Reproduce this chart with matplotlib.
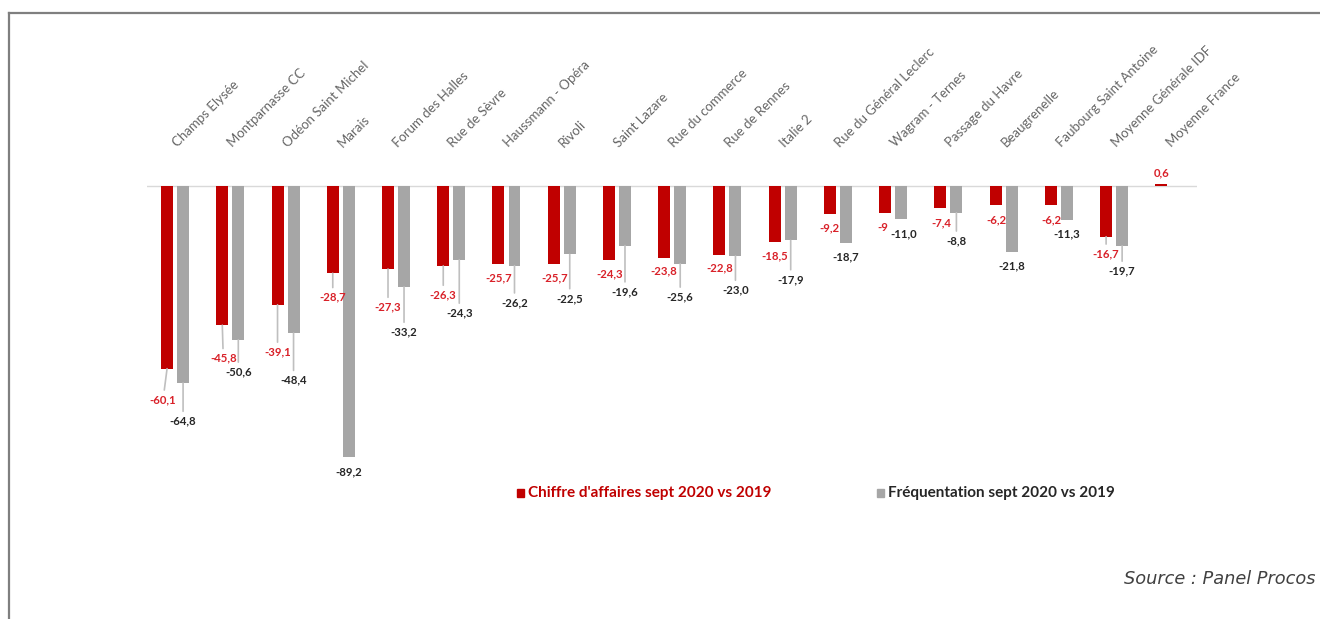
import matplotlib
matplotlib.use("Agg")
import matplotlib.pyplot as plt
from matplotlib.lines import Line2D
from matplotlib.patches import Rectangle
import numpy as np

plt.rcParams['font.family'] = ['Lato', 'DejaVu Sans']

sites = ['Champs Elysée', 'Montparnasse CC', 'Odéon Saint Michel', 'Marais',
         'Forum des Halles', 'Rue de Sèvre', 'Haussmann - Opéra', 'Rivoli',
         'Saint Lazare', 'Rue du commerce', 'Rue de Rennes', 'Italie 2',
         'Rue du Général Leclerc', 'Wagram - Ternes', 'Passage du Havre',
         'Beaugrenelle', 'Faubourg Saint Antoine', 'Moyenne Générale IDF',
         'Moyenne France']
ca = [-60.1, -45.8, -39.1, -28.7, -27.3, -26.3, -25.7, -25.7, -24.3, -23.8,
      -22.8, -18.5, -9.2, -9, -7.4, -6.2, -6.2, -16.7, 0.6]
frequentation = [-64.8, -50.6, -48.4, -89.2, -33.2, -24.3, -26.2, -22.5, -19.6,
                 -25.6, -23.0, -17.9, -18.7, -11.0, -8.8, -21.8, -11.3, -19.7]

RED = '#c00000'
GREY = '#a6a6a6'
RED_TXT = '#d92129'
DARK = '#262626'
LEADER = '#bfbfbf'

# label placement below each bar, in pixels (dx, drop)
ca_dx = [-4, 1, 0, 0, 0, 0, 0, 1, 1, 0, 0, 0, 0, -2, 1, 1, 1, 0, 0]
ca_drop = [31, 33, 47, 24, 38, 29, 14, 14, 14, 13, 13, 14, 14, 14, 14, 15, 15, 17, -11]
fr_dx = [0, 0, 0, 0, 0, 0, 0, 0, 0, 0, 0, 0, 0, 3, 0, 0, 0, 0]
fr_drop = [38, 32, 47, 15, 45, 53, 37, 44, 46, 33, 34, 39, 14, 14, 28, 14, 14, 25]

fig = plt.figure(figsize=(13.2, 6.19), dpi=100)
ax = fig.add_axes([0.1117, 0.2330, 0.7951, 0.4911])

x = np.arange(len(sites))
w = 0.217
off = 0.145
ax.bar(x - off, ca, w, color=RED, zorder=2)
ax.bar(x[:len(frequentation)] + off, frequentation, w, color=GREY, zorder=2)
ax.axhline(0, color='#d9d9d9', lw=1, zorder=1)

ax.set_xlim(-0.5, 18.5)
ax.set_ylim(-95, 5)
ax.axis('off')


def label(xpos, val, text, color, dx, drop):
    leader = None
    if drop > 16:
        leader = dict(arrowstyle='-', color=LEADER, lw=1.2, shrinkA=1, shrinkB=0)
    ax.annotate(text, xy=(xpos, val), xytext=(dx, -drop), textcoords='offset pixels',
                ha='center', va='center', fontsize=8.2, fontweight='bold',
                color=color, arrowprops=leader, zorder=3)


for i, v in enumerate(ca):
    label(x[i] - off, v, f"{v:g}".replace('.', ','), RED_TXT, ca_dx[i], ca_drop[i])
for i, v in enumerate(frequentation):
    label(x[i] + off, v, f"{v:.1f}".replace('.', ','), DARK, fr_dx[i], fr_drop[i])

for i, name in enumerate(sites):
    ax.text(i + 0.04, 12.6, name, rotation=45, rotation_mode='anchor',
            ha='left', va='baseline', fontsize=9.5, color='#666666')

# legend
fig.patches.append(Rectangle((517 / 1320, 1 - 497 / 619), 7 / 1320, 8 / 619,
                             transform=fig.transFigure, color=RED))
fig.text(528 / 1320, 1 - 493 / 619, "Chiffre d'affaires sept 2020 vs 2019",
         color=RED, fontsize=11, fontweight='bold', va='center')
fig.patches.append(Rectangle((877 / 1320, 1 - 497 / 619), 7 / 1320, 8 / 619,
                             transform=fig.transFigure, color=GREY))
fig.text(888 / 1320, 1 - 493 / 619, "Fréquentation sept 2020 vs 2019",
         color=DARK, fontsize=11, fontweight='bold', va='center')

fig.text(1316 / 1320, 1 - 579 / 619, "Source : Panel Procos", ha='right',
         va='center', fontsize=12.8, style='italic', color='#404040',
         family='DejaVu Sans')

# frame
fig.add_artist(Line2D([9 / 1320, 9 / 1320], [0, 1 - 13 / 619],
                      transform=fig.transFigure, color='#7f7f7f', lw=1.6))
fig.add_artist(Line2D([9 / 1320, 1], [1 - 13 / 619, 1 - 13 / 619],
                      transform=fig.transFigure, color='#7f7f7f', lw=1.6))

fig.savefig('out.png', dpi=100, facecolor='white')
